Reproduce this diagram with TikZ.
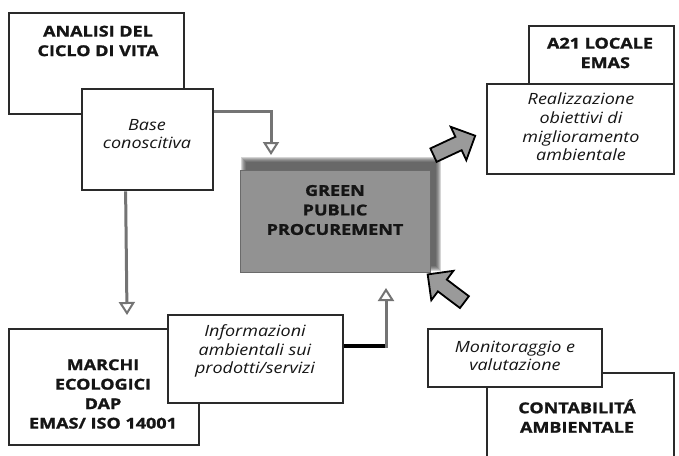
\documentclass[tikz,border=0pt]{standalone}
\usepackage{fontspec}
\usetikzlibrary{arrows.meta,shapes.arrows,calc}
\newfontfamily\bfam{Open Sans}[FakeStretch=1.2, BoldFeatures={FakeBold=1.3}]
\newfontfamily\ifam{Open Sans}[FakeStretch=1.16]
\definecolor{boxc}{HTML}{2A2A2A}
\definecolor{connc}{HTML}{747474}
\definecolor{txt}{HTML}{151515}
\definecolor{gfill}{HTML}{929292}
\definecolor{gbd}{HTML}{6A6A6A}
\definecolor{shc}{HTML}{3E3E3E}
\definecolor{arrc}{HTML}{9A9A9A}
\tikzset{
  box/.style={draw=boxc, line width=2.8pt, fill=white, inner sep=0pt},
  bt/.style={font=\bfam\bfseries\fontsize{15}{19.5}\selectfont, align=center, text=txt, inner sep=0pt},
  it/.style={font=\ifam\itshape\fontsize{15.5}{18.7}\selectfont, align=center, text=txt, inner sep=0pt},
  conn/.style={draw=connc, line width=3pt},
  blk/.style={draw=black, line width=4pt},
  tipo/.style={-{Triangle[open, length=13pt, width=16pt, line width=2pt]}},
  barrow/.style={single arrow, draw=black, fill=arrc, line width=1.8pt, inner sep=6.5pt,
    minimum height=46pt, single arrow head extend=11pt, single arrow head indent=0pt}
}
\begin{document}
\begin{tikzpicture}[x=1pt,y=-1pt]
\path[use as bounding box] (0,0) rectangle (679,455);
\fill[white] (0,0) rectangle (679,455);
\clip (0,0) rectangle (679,455);
% top-left
\node[box, minimum width=175pt, minimum height=101pt] (analisi) at (96.5,63.5) {};
\node[bt] (analisit) at (98,41) {ANALISI DEL\\CICLO DI VITA};
\node[box, minimum width=131pt, minimum height=101pt] (base) at (147.5,139.5) {};
\node[it] (baset) at (147,134) {Base\\conoscitiva};
% bottom-left
\node[box, minimum width=190pt, minimum height=116pt] (marchi) at (104,387) {};
\node[bt] (marchit) at (103,394) {MARCHI\\ECOLOGICI\\DAP\\EMAS/ ISO 14001};
\node[box, minimum width=175pt, minimum height=88pt] (info) at (255.5,359) {};
\node[it] (infot) at (255,351) {Informazioni\\ambientali sui\\prodotti/servizi};
% top-right
\node[box, minimum width=145pt, minimum height=100pt] (a21) at (601.5,76) {};
\node[bt] (a21t) at (600,53) {A21 LOCALE\\\hspace*{0.7em}EMAS};
\node[box, minimum width=187pt, minimum height=90pt] (real) at (580.5,129) {};
\node[it] (realt) at (581,127) {Realizzazione\\obiettivi di\\miglioramento\\ambientale};
% bottom-right
\node[box, minimum width=187pt, minimum height=100pt] (conta) at (580.5,423) {};
\node[bt] (contat) at (577,416) {CONTABILIT\'A\\AMBIENTALE};
\node[box, minimum width=174pt, minimum height=58pt] (monit) at (515,358) {};
\node[it] (monitt) at (515,356) {Monitoraggio e\\valutazione};
% centre box with soft shadow
\foreach \d in {5,4,3,2,1,0} {
  \fill[shc, opacity=0.22] ({246-\d},{162-\d}) rectangle ({436+\d},{266+\d});
}
\node[draw=gbd, fill=gfill, line width=1pt, minimum width=190pt, minimum height=102pt] (gpp) at (335,221) {};
\node[bt] (gppt) at (335,210) {GREEN\\PUBLIC\\PROCUREMENT};
% connectors
\coordinate (t1) at (271,155);
\coordinate (t2) at (127,315);
\coordinate (k) at (386,346);
\coordinate (t3) at (386,288);
\draw[conn, tipo] ($(base.north east)+(0,24)$) -| (t1);
\draw[conn, tipo] ($(base.south west)+(45,0)$) -- (t2);
\draw[blk] (info.east |- k) -- (k);
\draw[conn, tipo] ($(k)+(0,2)$) -- (t3);
% block arrows
\node[barrow, rotate=25] (ar1) at (451,147) {};
\node[barrow, rotate=143] (ar2) at (449,290.5) {};
\end{tikzpicture}
\end{document}
